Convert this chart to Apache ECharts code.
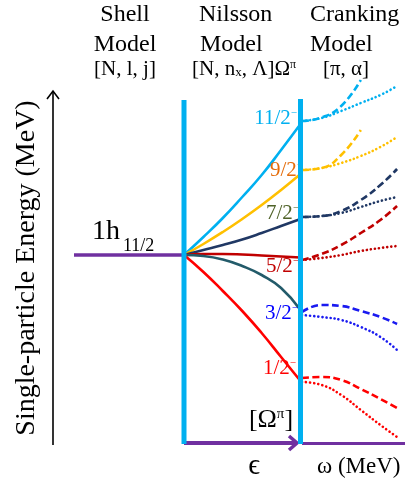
<!DOCTYPE html>
<html>
<head>
<meta charset="utf-8">
<script src="https://cdn.jsdelivr.net/npm/echarts@6/dist/echarts.min.js"></script>
<style>
  html, body { margin: 0; padding: 0; background: #ffffff; }
  #chart { width: 405px; height: 487px; }
</style>
</head>
<body>
<div id="chart"></div>
<script>
// Single-particle levels of the 1h11/2 shell: spherical shell model,
// Nilsson splitting with deformation, and cranking with rotational frequency.

// spherical level energy (MeV, relative)
const shellEnergy = [0, 0];
const shellX = [0, 1];

// deformation points for the Nilsson levels
const deformation = [0, 0.05, 0.1, 0.15, 0.2, 0.25, 0.3];
const nilsson11 = [0, 0.18, 0.37, 0.58, 0.80, 1.05, 1.31];
const nilsson9  = [0, 0.11, 0.23, 0.36, 0.50, 0.65, 0.81];
const nilsson7  = [0, 0.05, 0.10, 0.155, 0.22, 0.29, 0.36];
const nilsson5  = [0, 0.01, 0.01, 0.005, -0.005, -0.015, -0.025];
const nilsson3  = [0, -0.01, -0.045, -0.11, -0.20, -0.33, -0.55];
const nilsson1  = [0, -0.17, -0.36, -0.56, -0.78, -1.02, -1.26];

// rotational frequency points for the cranked levels (two signatures each)
const omega = [0, 0.1, 0.2, 0.3, 0.4, 0.485];
const crank11Dash = [1.34, 1.375, 1.49, 1.75, null, null];
const crank11Dot  = [1.34, 1.37, 1.44, 1.52, 1.60, 1.69];
const crank9Dash  = [0.85, 0.87, 1.0, 1.25, null, null];
const crank9Dot   = [0.85, 0.87, 0.92, 0.99, 1.08, 1.18];
const crank7Dash  = [0.38, 0.39, 0.44, 0.55, 0.70, 0.86];
const crank7Dot   = [0.38, 0.39, 0.42, 0.48, 0.54, 0.58];
const crank5Dash  = [-0.05, 0.01, 0.10, 0.22, 0.35, 0.49];
const crank5Dot   = [-0.05, -0.03, 0.0, 0.04, 0.07, 0.09];
const crank3Dash  = [-0.57, -0.50, -0.51, -0.56, -0.62, -0.69];
const crank3Dot   = [-0.60, -0.62, -0.65, -0.72, -0.82, -0.95];
const crank1Dash  = [-1.23, -1.22, -1.25, -1.34, -1.44, -1.53];
const crank1Dot   = [-1.27, -1.30, -1.40, -1.55, -1.70, -1.82];

const levelNames = ['11/2', '9/2', '7/2', '5/2', '3/2', '1/2'];

const SERIF = '"Liberation Serif", "Times New Roman", "DejaVu Serif", serif';
const PURPLE = '#7030A0';
const CYAN = '#00B0F0';

const nilssonSets = [
  { values: nilsson11, color: CYAN },
  { values: nilsson9,  color: '#FFC000' },
  { values: nilsson7,  color: '#203864' },
  { values: nilsson5,  color: '#C00000' },
  { values: nilsson3,  color: '#235B6A' },
  { values: nilsson1,  color: '#FF0000' }
];
const crankSets = [
  { dash: crank11Dash, dot: crank11Dot, color: CYAN },
  { dash: crank9Dash,  dot: crank9Dot,  color: '#FFC000' },
  { dash: crank7Dash,  dot: crank7Dot,  color: '#203864' },
  { dash: crank5Dash,  dot: crank5Dot,  color: '#C00000' },
  { dash: crank3Dash,  dot: crank3Dot,  color: '#1A1AF0' },
  { dash: crank1Dash,  dot: crank1Dot,  color: '#FF0000' }
];
const labelColors = [CYAN, '#E46C0A', '#4F6228', '#C00000', '#0000FF', '#FF0000'];

function pairs(xs, ys) {
  const out = [];
  xs.forEach((x, i) => { if (ys[i] !== null && ys[i] !== undefined) out.push([x, ys[i]]); });
  return out;
}

const series = [];
series.push({
  type: 'line', xAxisIndex: 0, yAxisIndex: 0, data: pairs(shellX, shellEnergy),
  symbol: 'none', lineStyle: { color: PURPLE, width: 3.5 }, z: 3
});
nilssonSets.forEach((s, i) => {
  series.push({
    type: 'line', name: levelNames[i], xAxisIndex: 1, yAxisIndex: 1,
    data: pairs(deformation, s.values), smooth: true, symbol: 'none',
    lineStyle: { color: s.color, width: 2.6 }, z: 3
  });
});
crankSets.forEach((s) => {
  series.push({
    type: 'line', xAxisIndex: 2, yAxisIndex: 2, data: pairs(omega, s.dash),
    smooth: true, symbol: 'none',
    lineStyle: { color: s.color, width: 2.6, type: [7, 3.5] }, z: 3
  });
  series.push({
    type: 'line', xAxisIndex: 2, yAxisIndex: 2, data: pairs(omega, s.dot),
    smooth: true, symbol: 'none',
    lineStyle: { color: s.color, width: 2.6, type: [0.1, 4], cap: 'round' }, z: 3
  });
});

const gridTop = 55, gridHeight = 400;
const yAxisBase = { type: 'value', min: -2, max: 2, show: false };

function text(x, y, str, size, opts) {
  return Object.assign({
    type: 'text', x: x, y: y, z: 50,
    style: Object.assign({
      text: str, fill: '#000', font: size + 'px ' + SERIF,
      align: 'center', verticalAlign: 'middle'
    }, (opts && opts.style) || {})
  }, (opts && opts.el) || {});
}

// level labels: Ω with superscript parity
const labelPos = [[291, 118], [297, 170], [293, 213], [293, 266], [292, 313], [290, 368]];
const labelTexts = labelPos.map((p, i) => ({
  type: 'text', x: p[0] + 6, y: p[1], z: 40,
  style: {
    text: '{f|' + levelNames[i] + '}{s|\u2212}',
    align: 'right', verticalAlign: 'middle', fill: labelColors[i],
    rich: {
      f: { fontSize: 21, fontFamily: SERIF, fill: labelColors[i], lineHeight: 21 },
      s: { fontSize: 11, fontFamily: SERIF, fill: labelColors[i], verticalAlign: 'top', lineHeight: 11 }
    }
  }
}));

const graphics = [
  // energy arrow
  { type: 'line', z: 10, shape: { x1: 53, y1: 445, x2: 53, y2: 91 }, style: { stroke: '#000', lineWidth: 1.6 } },
  { type: 'polyline', z: 10, shape: { points: [[47, 99], [53, 91], [59, 99]] }, style: { stroke: '#000', lineWidth: 1.6, fill: null } },
  // deformation arrow
  { type: 'line', z: 10, shape: { x1: 184, y1: 443, x2: 297, y2: 443 }, style: { stroke: PURPLE, lineWidth: 4 } },
  { type: 'polyline', z: 10, shape: { points: [[289, 436], [297, 443], [289, 450]] }, style: { stroke: PURPLE, lineWidth: 3.5, fill: null } },
  // rotational frequency axis
  { type: 'line', z: 10, shape: { x1: 302, y1: 443.5, x2: 405, y2: 443.5 }, style: { stroke: PURPLE, lineWidth: 3 } },
  // model dividers
  { type: 'line', z: 60, shape: { x1: 184, y1: 100, x2: 184, y2: 444 }, style: { stroke: CYAN, lineWidth: 5 } },
  { type: 'line', z: 60, shape: { x1: 300.5, y1: 99, x2: 300.5, y2: 444 }, style: { stroke: CYAN, lineWidth: 5 } },

  // headers
  text(125, 15, 'Shell', 24),
  text(125, 45, 'Model', 24),
  text(125, 69, '[N, l, j]', 21),
  text(199, 15, 'Nilsson', 24, { style: { align: 'left' } }),
  text(200, 45, 'Model', 24, { style: { align: 'left' } }),
  {
    type: 'text', x: 192, y: 69, z: 50,
    style: {
      text: '{a|[N, n}{b|x}{a|, \u039B]\u03A9}{c|\u03C0}',
      align: 'left', verticalAlign: 'middle',
      rich: {
        a: { fontSize: 21, fontFamily: SERIF, fill: '#000', lineHeight: 21 },
        b: { fontSize: 13, fontFamily: SERIF, fill: '#000', verticalAlign: 'bottom', lineHeight: 8 },
        c: { fontSize: 12, fontFamily: SERIF, fill: '#000', verticalAlign: 'top', lineHeight: 12 }
      }
    }
  },
  text(310, 15, 'Cranking', 24, { style: { align: 'left' } }),
  text(310, 45, 'Model', 24, { style: { align: 'left' } }),
  text(323, 69, '[\u03C0, \u03B1]', 21, { style: { align: 'left' } }),

  // spherical level label
  text(92, 232, '1h', 28, { style: { align: 'left' } }),
  text(123, 246, '11/2', 18, { style: { align: 'left' } }),

  // axis titles
  text(27, 268, 'Single-particle Energy (MeV)', 28, { el: { rotation: Math.PI / 2 } }),
  {
    type: 'text', x: 271, y: 420, z: 50,
    style: {
      text: '{a|[\u03A9}{c|\u03C0}{a|]}',
      align: 'center', verticalAlign: 'middle',
      rich: {
        a: { fontSize: 26, fontFamily: SERIF, fill: '#000', lineHeight: 26 },
        c: { fontSize: 15, fontFamily: SERIF, fill: '#000', verticalAlign: 'top', lineHeight: 15 }
      }
    }
  },
  text(254, 466, '\u03F5', 29),
  text(317, 467, '\u03C9 (MeV)', 23, { style: { align: 'left' } })
].concat(labelTexts);

const chart = echarts.init(document.getElementById('chart'), null, { renderer: 'canvas' });
chart.setOption({
  animation: false,
  backgroundColor: '#ffffff',
  grid: [
    { left: 74, top: gridTop, width: 110, height: gridHeight },
    { left: 184, top: gridTop, width: 116.5, height: gridHeight },
    { left: 302, top: gridTop, width: 98, height: gridHeight }
  ],
  xAxis: [
    { type: 'value', gridIndex: 0, min: 0, max: 1, show: false },
    { type: 'value', gridIndex: 1, min: 0, max: 0.3, show: false },
    { type: 'value', gridIndex: 2, min: 0, max: 0.5, show: false }
  ],
  yAxis: [
    Object.assign({ gridIndex: 0 }, yAxisBase),
    Object.assign({ gridIndex: 1 }, yAxisBase),
    Object.assign({ gridIndex: 2 }, yAxisBase)
  ],
  series: series,
  graphic: graphics
});
</script>
</body>
</html>
